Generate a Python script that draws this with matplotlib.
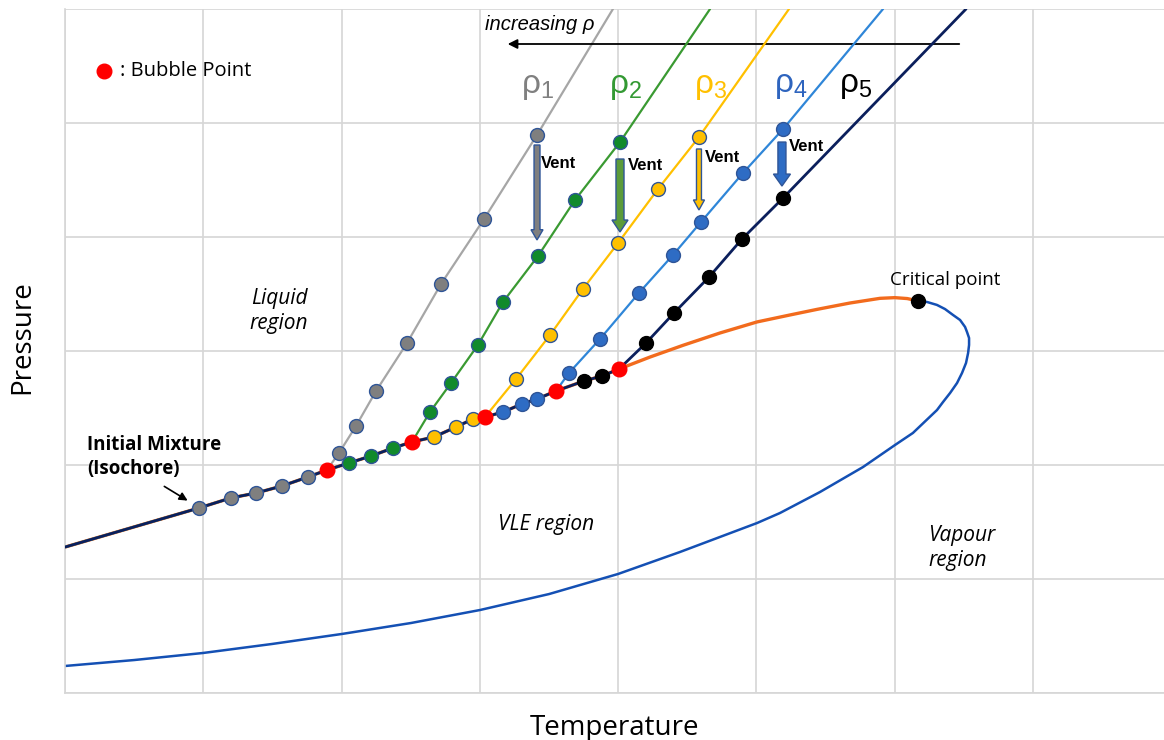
import matplotlib.pyplot as plt
from matplotlib.patches import FancyArrow

# values, in grid units (1 unit = 1 grid cell)
start_T, start_P = 0.0, 1.28

# rho1 (grey)
vle1_T = [0.969, 1.200, 1.381, 1.569, 1.757]
vle1_P = [1.623, 1.711, 1.754, 1.816, 1.895]
liq1_T = [1.981, 2.104, 2.249, 2.473, 2.719, 3.030, 3.413]
liq1_P = [2.105, 2.342, 2.649, 3.070, 3.588, 4.158, 4.895]

# rho2 (green)
vle2_T = [2.054, 2.213, 2.372]
vle2_P = [2.018, 2.079, 2.149]
liq2_T = [2.639, 2.791, 2.986, 3.167, 3.420, 3.688, 4.013]
liq2_P = [2.465, 2.719, 3.053, 3.430, 3.833, 4.325, 4.833]

# rho3 (yellow)
vle3_T = [2.668, 2.827, 2.950]
vle3_P = [2.246, 2.333, 2.404]
liq3_T = [3.261, 3.507, 3.745, 3.999, 4.288, 4.584]
liq3_P = [2.754, 3.140, 3.544, 3.947, 4.421, 4.877]

# rho4 (blue)
vle4_T = [3.167, 3.304, 3.413]
vle4_P = [2.465, 2.535, 2.579]
liq4_T = [3.644, 3.868, 4.150, 4.396, 4.599, 4.902, 5.192]
liq4_P = [2.807, 3.105, 3.509, 3.842, 4.132, 4.561, 4.947]

# rho5 (navy / black)
vle5_T = [3.753, 3.883]
vle5_P = [2.737, 2.781]
liq5_T = [4.201, 4.403, 4.657, 4.895, 5.192]
liq5_P = [3.070, 3.333, 3.649, 3.982, 4.342]

# bubble points (red) and where each isochore leaves the top of the chart
bubble_T = [1.894, 2.509, 3.037, 3.550, 4.006]
bubble_P = [1.956, 2.202, 2.421, 2.649, 2.842]
end_T = [3.962, 4.664, 5.235, 5.915, 6.515]
end_P = [6.0, 6.0, 6.0, 6.0, 6.0]

# bubble-point curve from last bubble point up to the critical point
bub_T = [4.006, 4.230, 4.469, 4.736, 5.004, 5.242, 5.437, 5.676, 5.893, 6.000, 6.090, 6.168]
bub_P = [2.842, 2.947, 3.050, 3.158, 3.255, 3.316, 3.365, 3.421, 3.462, 3.468, 3.460, 3.439]
crit_T, crit_P = 6.168, 3.439

# dew-point curve from critical point back down to the left edge
dew_T = [6.168, 6.233, 6.305, 6.363, 6.421, 6.472, 6.508, 6.522, 6.537, 6.537,
         6.530, 6.515, 6.486, 6.450, 6.400, 6.349, 6.305, 6.131, 6.001, 5.770,
         5.459, 5.170, 5.004, 4.447, 3.999, 3.500, 3.001, 2.502, 2.003,
         1.497, 0.998, 0.499, 0.0]
dew_P = [3.439, 3.430, 3.404, 3.368, 3.316, 3.272, 3.211, 3.167, 3.114, 3.053,
         2.982, 2.895, 2.807, 2.719, 2.632, 2.553, 2.482, 2.281, 2.175, 1.982,
         1.763, 1.579, 1.491, 1.237, 1.044, 0.868, 0.728, 0.614, 0.518,
         0.430, 0.351, 0.289, 0.237]

vle_T = [vle1_T, vle2_T, vle3_T, vle4_T, vle5_T]
vle_P = [vle1_P, vle2_P, vle3_P, vle4_P, vle5_P]
liq_T = [liq1_T, liq2_T, liq3_T, liq4_T, liq5_T]
liq_P = [liq1_P, liq2_P, liq3_P, liq4_P, liq5_P]

line_colors = ['#a6a6a6', '#3a9a32', '#ffc000', '#2f86d8', '#0b1f5c']
marker_colors = ['#7f7f7f', '#118a2b', '#ffc000', '#2e6cc4', '#000000']
marker_edges = ['#2f5597', '#2f5597', '#2f5597', '#2f5597', '#000000']
label_colors = ['#808080', '#339933', '#ffc000', '#2e64be', '#000000']
label_T = [3.300, 3.930, 4.545, 5.124, 5.594]
label_P = [5.260, 5.260, 5.260, 5.276, 5.276]

plt.rcParams['font.family'] = ['Open Sans', 'DejaVu Sans']
plt.rcParams['mathtext.fontset'] = 'custom'
plt.rcParams['mathtext.rm'] = 'Liberation Sans'
plt.rcParams['mathtext.it'] = 'Liberation Sans:italic'

fig = plt.figure(figsize=(11.64, 7.4), dpi=100)
ax = fig.add_axes([65 / 1164, 1 - 693 / 740, 1099 / 1164, 684 / 740])
ax.set_xlim(0, 1099 / 138.3)
ax.set_ylim(0, 6)
ax.set_xticks(range(0, 8))
ax.set_yticks(range(0, 7))
ax.tick_params(length=0, labelbottom=False, labelleft=False)
ax.grid(True, color='#d6d6d6', lw=1.2)
ax.set_axisbelow(True)
for side in ['top', 'right']:
    ax.spines[side].set_visible(False)
for side in ['left', 'bottom']:
    ax.spines[side].set_color('#d6d6d6')
    ax.spines[side].set_linewidth(1.2)

# isochore paths: shared low-T part, then the liquid branch
base_T = [start_T]
base_P = [start_P]
for k in range(5):
    base_T = base_T + vle_T[k] + [bubble_T[k]]
    base_P = base_P + vle_P[k] + [bubble_P[k]]
    lw = 2.0 if k == 4 else 1.6
    ax.plot(base_T + liq_T[k] + [end_T[k]], base_P + liq_P[k] + [end_P[k]],
            color=line_colors[k], lw=lw, zorder=3 + k, solid_capstyle='round')

# bubble line (orange) runs under the isochores, dew line in blue
ax.plot(base_T + bub_T[1:], base_P + bub_P[1:], color='#f26b1d', lw=2.4, zorder=2.5,
        solid_joinstyle='round')
ax.plot(dew_T, dew_P, color='#1450b4', lw=1.8, zorder=2.5, solid_joinstyle='round')

for k in range(5):
    ax.plot(vle_T[k] + liq_T[k], vle_P[k] + liq_P[k], 'o', ms=10,
            mfc=marker_colors[k], mec=marker_edges[k], mew=1.0, zorder=12)
    ax.text(label_T[k], label_P[k], 'ρ$_{%d}$' % (k + 1), color=label_colors[k],
            fontsize=24, family='Liberation Sans', va='baseline', ha='left')

ax.plot(bubble_T, bubble_P, 'o', ms=10.5, color='#ff0000', mec='#ff0000', zorder=13)
ax.plot([crit_T], [crit_P], 'o', ms=10, color='black', zorder=13)

# legend-ish marker
ax.plot([0.282], [5.456], 'o', ms=10.5, color='#ff0000', clip_on=False)
ax.text(0.398, 5.456, ': Bubble Point', fontsize=14.5, va='center', ha='left')

# vent arrows
vent_x = [3.413, 4.013, 4.584, 5.184]
vent_top = [4.807, 4.684, 4.772, 4.833]
vent_bot = [3.974, 4.044, 4.237, 4.447]
vent_fill = ['#7f7f7f', '#5b9b3a', '#ffc000', '#2e6cc4']
vent_w = [0.043, 0.058, 0.036, 0.058]
vent_hw = [0.087, 0.116, 0.080, 0.123]
vent_hl = [0.09, 0.105, 0.088, 0.105]
vent_tx = [3.442, 4.071, 4.628, 5.235]
vent_ty = [4.605, 4.588, 4.658, 4.754]
for i in range(4):
    ax.add_patch(FancyArrow(vent_x[i], vent_top[i], 0, vent_bot[i] - vent_top[i],
                            width=vent_w[i], head_width=vent_hw[i], head_length=vent_hl[i],
                            length_includes_head=True, fc=vent_fill[i], ec='#2f5597',
                            lw=1.0, zorder=9))
    ax.text(vent_tx[i], vent_ty[i], 'Vent', fontsize=12, fontweight='bold',
            family='Liberation Sans', va='baseline', ha='left', zorder=14)

# increasing rho arrow
ax.annotate('', xy=(3.181, 5.693), xytext=(6.486, 5.693),
            arrowprops=dict(arrowstyle='-|>', color='black', lw=1.3, mutation_scale=14))
ax.text(3.43, 5.86, 'increasing ρ', fontsize=14.5, style='italic',
        family='Liberation Sans', ha='center', va='center')

# region labels
ax.text(1.547, 3.351, 'Liquid\nregion', fontsize=15, style='italic',
        ha='center', va='center', linespacing=1.25)
ax.text(3.478, 1.474, 'VLE region', fontsize=15, style='italic', ha='center', va='center')
ax.text(6.240, 1.272, 'Vapour\nregion', fontsize=15, style='italic',
        ha='left', va='center', linespacing=1.25)
ax.text(6.363, 3.623, 'Critical point', fontsize=13.5, ha='center', va='center')
ax.text(0.159, 2.07, 'Initial Mixture\n(Isochore)', fontsize=13.5, fontweight='bold',
        ha='left', va='center', linespacing=1.25)
ax.annotate('', xy=(0.904, 1.675), xytext=(0.701, 1.825),
            arrowprops=dict(arrowstyle='-|>', color='black', lw=1.2, mutation_scale=12))

fig.text(22.5 / 1164, 1 - 337.5 / 740, 'Pressure', rotation=90, fontsize=20,
         ha='center', va='center')
fig.text(614 / 1164, 1 - 735 / 740, 'Temperature', fontsize=20, ha='center', va='baseline')

fig.savefig('out.png', dpi=100)
